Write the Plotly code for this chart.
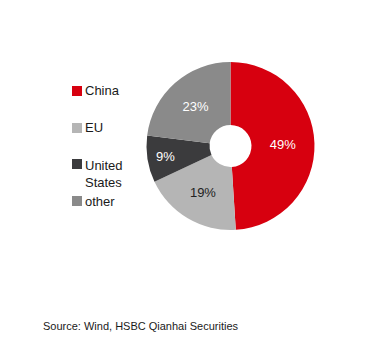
import plotly.graph_objects as go

categories = ["China", "EU", "United States", "other"]
legend_labels = ["China", "EU", "United<br>States", "other"]
shares = [49, 19, 9, 23]
colors = ["#d7000f", "#b5b5b5", "#3b3b3d", "#8a8a8a"]
text_colors = ["white", "#222222", "white", "white"]
source_text = "Source: Wind, HSBC Qianhai Securities"

W, H = 376, 349
FONT = "Liberation Sans Narrow, Arial Narrow, Liberation Sans, Arial"

fig = go.Figure()
fig.add_trace(go.Pie(
    labels=categories,
    values=shares,
    sort=False,
    direction="clockwise",
    rotation=0,
    hole=0.25,
    marker=dict(colors=colors, line=dict(width=0)),
    texttemplate="%{value}%",
    textinfo="text",
    textposition="inside",
    insidetextorientation="horizontal",
    insidetextfont=dict(family=FONT, size=13, color=text_colors),
    domain=dict(x=[146.5 / W, 314.5 / W], y=[1 - 230 / H, 1 - 62 / H]),
    showlegend=False,
    hoverinfo="label+percent",
))

# manual legend
legend_y = [91, 128, 164, 201]
text_y = [91, 128, 173.5, 201]
shapes = []
annotations = []
for i, lab in enumerate(legend_labels):
    yc = legend_y[i]
    shapes.append(dict(type="rect", xref="paper", yref="paper",
                       x0=72 / W, x1=82 / W, y0=1 - (yc + 5) / H, y1=1 - (yc - 5) / H,
                       fillcolor=colors[i], line=dict(width=0)))
    annotations.append(dict(text=lab, xref="paper", yref="paper",
                            x=83 / W, y=1 - text_y[i] / H, xanchor="left", yanchor="middle",
                            showarrow=False, align="left",
                            font=dict(family=FONT, size=13, color="#1a1a1a")))

annotations.append(dict(text=source_text, xref="paper", yref="paper",
                        x=41 / W, y=1 - 326 / H, xanchor="left", yanchor="middle",
                        showarrow=False, font=dict(family=FONT, size=11, color="#1a1a1a")))

fig.update_layout(
    width=W, height=H,
    margin=dict(l=0, r=0, t=0, b=0),
    paper_bgcolor="white", plot_bgcolor="white",
    shapes=shapes, annotations=annotations,
)

fig.write_html("out.html", config={"displayModeBar": False})
